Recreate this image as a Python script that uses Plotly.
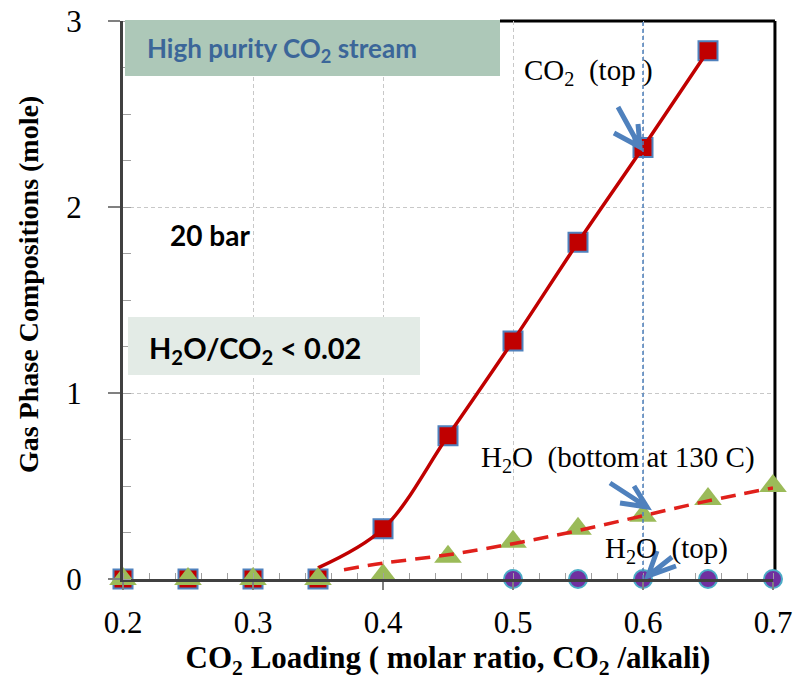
import plotly.graph_objects as go

# CO2 loading (molar ratio, CO2/alkali)
loading = [0.2, 0.25, 0.3, 0.35, 0.4, 0.45, 0.5, 0.55, 0.6, 0.65, 0.7]

# CO2 (top) – gas phase moles
co2_x = [0.2, 0.25, 0.3, 0.35, 0.4, 0.45, 0.5, 0.55, 0.6, 0.65]
co2_y = [0.0, 0.0, 0.0, 0.0, 0.27, 0.77, 1.28, 1.81, 2.32, 2.84]
# smoothed CO2 curve
co2_fit_x = [0.35, 0.4, 0.45, 0.5, 0.55, 0.6, 0.65]
co2_fit_y = [0.06, 0.27, 0.77, 1.28, 1.81, 2.32, 2.84]

# H2O (bottom at 130 C)
h2o_bot_x = loading
h2o_bot_y = [0.0, 0.0, 0.0, 0.0, 0.02, 0.12, 0.20, 0.27, 0.34, 0.43, 0.50]
# H2O bottom trend
h2o_fit_x = [0.37, 0.4, 0.45, 0.5, 0.55, 0.6, 0.65, 0.7]
h2o_fit_y = [0.05, 0.085, 0.13, 0.19, 0.26, 0.34, 0.42, 0.49]

# H2O (top)
h2o_top_x = [0.5, 0.55, 0.6, 0.65, 0.7]
h2o_top_y = [0.0, 0.0, 0.0, 0.0, 0.0]

x_ticks = [0.2, 0.3, 0.4, 0.5, 0.6, 0.7]
y_ticks = [0, 1, 2, 3]

W, H = 796, 681
L, R, T, B = 123, 23, 21, 102
X0, X1 = 0.2, 0.7
Y0, Y1 = 0.0, 3.0
PW, PH = W - L - R, H - T - B


def px(xp, yp):
    """Convert page pixel position to data coordinates."""
    return (X0 + (xp - L) / PW * (X1 - X0), Y1 - (yp - T) / PH * (Y1 - Y0))


def paper(xp, yp):
    """Convert page pixel position to paper coordinates."""
    return ((xp - L) / PW, (H - B - yp) / PH)


SERIF = "Liberation Serif"
SANS = "Lato"
BLUE = "#4F81BD"
RED = "#C00000"

fig = go.Figure()

fig.add_trace(go.Scatter(
    x=co2_x, y=co2_y, mode="markers", cliponaxis=False,
    marker=dict(symbol="square", size=19, color=RED, line=dict(color=BLUE, width=2)),
    showlegend=False))
fig.add_trace(go.Scatter(
    x=co2_fit_x, y=co2_fit_y, mode="lines", line=dict(color=RED, width=3.5, shape="spline"),
    showlegend=False))
fig.add_trace(go.Scatter(
    x=h2o_bot_x, y=h2o_bot_y, mode="markers", cliponaxis=False,
    marker=dict(symbol="triangle-up", size=24, color="#9BBB59", line=dict(width=0)),
    showlegend=False))
fig.add_trace(go.Scatter(
    x=h2o_fit_x, y=h2o_fit_y, mode="lines",
    line=dict(color="#E0201B", width=3.5, dash="15px,9px", shape="spline"),
    showlegend=False))
fig.add_trace(go.Scatter(
    x=h2o_top_x, y=h2o_top_y, mode="markers", cliponaxis=False,
    marker=dict(symbol="circle", size=18, color="#7030A0", line=dict(color="#4BACC6", width=2)),
    showlegend=False))

shapes = []
# right and top frame
pa = paper(500, 21)
shapes.append(dict(type="line", xref="paper", yref="paper", x0=pa[0], x1=1.003, y0=1, y1=1,
                   line=dict(color="black", width=3), layer="below"))
shapes.append(dict(type="line", xref="paper", yref="paper", x0=1.003, x1=1.003, y0=0, y1=1,
                   line=dict(color="black", width=3), layer="below"))
# marker line at loading 0.6
shapes.append(dict(type="line", xref="x", yref="y", x0=0.6, x1=0.6, y0=0, y1=3,
                   line=dict(color=BLUE, width=1.5, dash="4px,3px"), layer="above"))
# label boxes
bx0, by0 = paper(125, 20)
bx1, by1 = paper(500, 76)
shapes.append(dict(type="rect", xref="paper", yref="paper", x0=bx0, x1=bx1, y0=by1, y1=by0,
                   fillcolor="#ADC8B8", line=dict(width=0), layer="above"))
bx0, by0 = paper(128, 317)
bx1, by1 = paper(420, 375)
shapes.append(dict(type="rect", xref="paper", yref="paper", x0=bx0, x1=bx1, y0=by1, y1=by0,
                   fillcolor="#E3EBE6", line=dict(width=0), layer="above"))


def arrow(tail, tip, w1, w2):
    t = px(*tail); p = px(*tip); a = px(*w1); b = px(*w2)
    path = (f"M {t[0]},{t[1]} L {p[0]},{p[1]} "
            f"M {a[0]},{a[1]} L {p[0]},{p[1]} L {b[0]},{b[1]}")
    return dict(type="path", xref="x", yref="y", path=path,
                line=dict(color=BLUE, width=5), layer="above")


shapes.append(arrow((618, 107), (640, 147), (614, 133), (638, 124)))
shapes.append(arrow((610, 483), (647, 507), (634, 486), (620, 503)))
shapes.append(arrow((672, 557), (648, 576), (657, 551), (676, 566)))

annotations = []


def label(text, xp, yp, size, family, color="black", bold=False, angle=0, anchor="left"):
    x, y = paper(xp, yp)
    if bold:
        text = f"<b>{text}</b>"
    annotations.append(dict(x=x, y=y, xref="paper", yref="paper", text=text, showarrow=False,
                            xanchor=anchor, yanchor="middle", textangle=angle,
                            font=dict(size=size, family=family, color=color)))


label("High purity CO<sub>2</sub> stream", 145, 49, 26, SANS, "#3B6699", bold=True)
label("20 bar", 168, 235, 28, SANS, bold=True)
label("H<sub>2</sub>O/CO<sub>2</sub> &lt; 0.02", 147, 349, 29, SANS, bold=True)
label("CO<sub>2</sub>  (top )", 522, 72, 29, SERIF)
label("H<sub>2</sub>O  (bottom at 130 C)", 479, 459, 29, SERIF)
label("H<sub>2</sub>O  (top)", 603, 550, 29, SERIF)
# y axis title
label("Gas Phase Compositions (mole)", 28, 285, 28, SERIF, bold=True, angle=-90, anchor="center")

fig.update_layout(
    width=W, height=H,
    margin=dict(l=L, r=R, t=T, b=B),
    paper_bgcolor="white", plot_bgcolor="white",
    shapes=shapes, annotations=annotations,
    xaxis=dict(
        range=[X0, X1], tickvals=x_ticks, ticktext=[f"{v:.1f}" for v in x_ticks],
        showline=True, linecolor="#404040", linewidth=3, automargin=False,
        ticks="outside", ticklen=8, tickcolor="#808080", tickwidth=1.5,
        minor=dict(dtick=0.02, ticks="inside", ticklen=6, tickcolor="#A0A0A0",
                   tickwidth=1.2, showgrid=False),
        showgrid=True, gridcolor="#C8C8C8", griddash="4px,3px", gridwidth=1,
        zeroline=False, ticklabelstandoff=6,
        tickfont=dict(family=SERIF, size=31, color="black"),
        title=dict(text="<b>CO<sub>2</sub> Loading ( molar ratio, CO<sub>2</sub> /alkali)</b>",
                   font=dict(family=SERIF, size=31, color="black"), standoff=6),
    ),
    yaxis=dict(
        range=[Y0, Y1], tickvals=y_ticks, ticktext=[str(v) for v in y_ticks],
        showline=True, linecolor="#404040", linewidth=3, automargin=False,
        ticks="outside", ticklen=12, tickcolor="#808080", tickwidth=1.5,
        minor=dict(dtick=0.25, ticks="inside", ticklen=8, tickcolor="#A0A0A0",
                   tickwidth=1.2, showgrid=False),
        showgrid=True, gridcolor="#C8C8C8", griddash="4px,3px", gridwidth=1,
        zeroline=False, ticklabelstandoff=20,
        tickfont=dict(family=SERIF, size=31, color="black"),
    ),
)

fig.write_html("out.html")
